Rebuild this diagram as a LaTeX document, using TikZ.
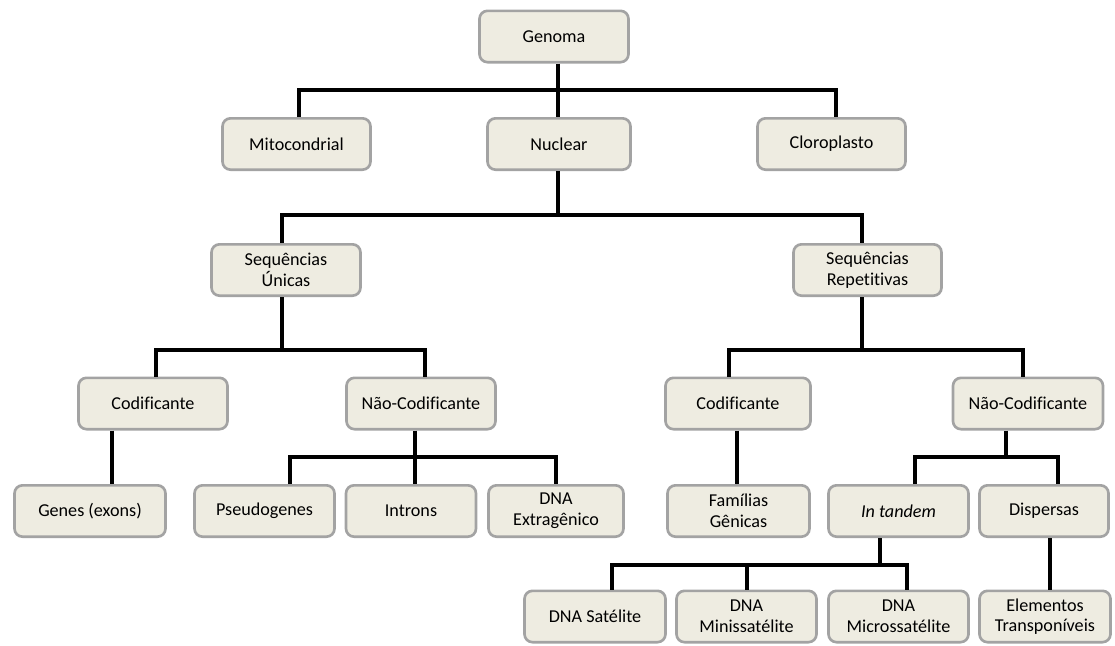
\documentclass[tikz,border=0pt]{standalone}
\usepackage{fontspec}
\setmainfont{Carlito}[Ligatures=CommonOff]
\usepackage{xcolor}
\definecolor{boxfill}{RGB}{238,236,225}
\definecolor{boxline}{RGB}{163,163,163}

\begin{document}
\begin{tikzpicture}[x=0.75pt,y=0.75pt,yscale=-1,xscale=1,
  box/.style={draw=boxline, fill=boxfill, line width=2pt, rounded corners=6pt,
    minimum height=38.5pt, inner sep=1pt, align=center,
    font=\fontsize{13.6}{15.5}\selectfont},
  boxw/.style={minimum width={(#1-3)*0.75pt}},
  link/.style={line width=2.3pt, draw=black}]
\useasboundingbox (0,0) rectangle (1115,646);

% Text Node
\node[box, boxw=152] (genoma) at (554,36.5) {Genoma};
% Text Node
\node[box, boxw=151] (mito) at (296.5,144) {Mitocondrial};
\node[box, boxw=146] (nuclear) at (559,144) {Nuclear};
\node[box, boxw=151] (cloro) at (831.5,144) {Cloroplasto};
% Text Node
\node[box, boxw=152] (unicas) at (286,270) {Sequências\\Únicas};
\node[box, boxw=151] (repet) at (867.5,270) {Sequências\\Repetitivas};
% Text Node
\node[box, boxw=152] (codU) at (153,403.5) {Codificante};
\node[box, boxw=152] (naoU) at (421,403.5) {Não-Codificante};
\node[box, boxw=148] (codR) at (738,403.5) {Codificante};
\node[box, boxw=153] (naoR) at (1028,403.5) {Não-Codificante};
% Text Node
\node[box, boxw=154] (genes) at (90,511) {Genes (exons)};
\node[box, boxw=143] (pseudo) at (264.5,511) {Pseudogenes};
\node[box, boxw=133] (introns) at (411,511) {Introns};
\node[box, boxw=138] (extra) at (556,511) {DNA\\Extragênico};
\node[box, boxw=145] (familias) at (738.5,511) {Famílias\\Gênicas};
\node[box, boxw=143] (tandem) at (898.5,511) {\textit{In tandem}};
\node[box, boxw=132] (dispersas) at (1044,511) {Dispersas};
% Text Node
\node[box, boxw=144] (satelite) at (595,616.5) {DNA Satélite};
\node[box, boxw=143] (mini) at (746.5,616.5) {DNA\\Minissatélite};
\node[box, boxw=143] (micro) at (898.5,616.5) {DNA\\Microssatélite};
\node[box, boxw=134] (elem) at (1045,616.5) {Elementos\\Transponíveis};

%Straight Lines: Genoma
\coordinate (j1) at (558,90);
\coordinate (j1l) at (299,90);
\coordinate (j1r) at (836,90);
\draw[link] (mito.north -| j1l) |- (j1r) -- (cloro.north -| j1r);
\draw[link] (genoma.south -| j1) -- (nuclear.north -| j1);
%Straight Lines: Nuclear
\coordinate (j2l) at (282,215);
\coordinate (j2r) at (862,215);
\draw[link] (unicas.north -| j2l) |- (j2r) -- (repet.north -| j2r);
\draw[link] (nuclear.south -| j1) -- (j1 |- j2l);
%Straight Lines: Sequencias Unicas
\coordinate (j3a) at (156,350);
\coordinate (j3b) at (425,350);
\draw[link] (codU.north -| j3a) |- (j3b) -- (naoU.north -| j3b);
\draw[link] (unicas.south -| j2l) -- (j2l |- j3a);
%Straight Lines: Sequencias Repetitivas
\coordinate (j3c) at (729,350);
\coordinate (j3d) at (1023,350);
\draw[link] (codR.north -| j3c) |- (j3d) -- (naoR.north -| j3d);
\draw[link] (repet.south -| j2r) -- (j2r |- j3c);
%Straight Lines: Codificante
\coordinate (d1) at (112,0);
\coordinate (d2) at (737,0);
\draw[link] (codU.south -| d1) -- (genes.north -| d1);
\draw[link] (codR.south -| d2) -- (familias.north -| d2);
%Straight Lines: Nao-Codificante (left)
\coordinate (j4a) at (290,457);
\coordinate (j4b) at (556,457);
\coordinate (j4m) at (415,457);
\draw[link] (pseudo.north -| j4a) |- (j4b) -- (extra.north -| j4b);
\draw[link] (naoU.south -| j4m) -- (introns.north -| j4m);
%Straight Lines: Nao-Codificante (right)
\coordinate (j4c) at (915,457);
\coordinate (j4d) at (1058,457);
\coordinate (j4n) at (1006,457);
\draw[link] (tandem.north -| j4c) |- (j4d) -- (dispersas.north -| j4d);
\draw[link] (naoR.south -| j4n) -- (j4n);
%Straight Lines: In tandem
\coordinate (j5a) at (612,565);
\coordinate (j5b) at (907,565);
\coordinate (j5m) at (747,565);
\coordinate (j5t) at (880,565);
\draw[link] (satelite.north -| j5a) |- (j5b) -- (micro.north -| j5b);
\draw[link] (mini.north -| j5m) -- (j5m);
\draw[link] (tandem.south -| j5t) -- (j5t);
%Straight Lines: Dispersas
\coordinate (d3) at (1050,0);
\draw[link] (dispersas.south -| d3) -- (elem.north -| d3);

\end{tikzpicture}
\end{document}
